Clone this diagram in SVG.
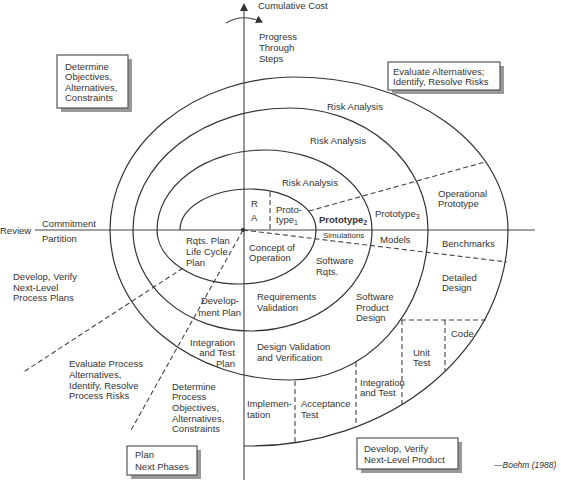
<svg xmlns="http://www.w3.org/2000/svg" width="561" height="480" viewBox="0 0 561 480">
<defs>
<style>
text{font-family:"Liberation Sans",Arial,sans-serif;font-size:9.5px;fill:#333}
.sm{font-size:8px}
.sub{font-size:7px}
.ax{stroke:#444;stroke-width:1.1;fill:none}
.sp{stroke:#333;stroke-width:1.2;fill:none}
.da{stroke:#444;stroke-width:1.1;fill:none;stroke-dasharray:5 3}
.box{fill:#fff;stroke:#555;stroke-width:1.2}
.sh{fill:#999}
</style>
<marker id="ah" markerWidth="8" markerHeight="8" refX="6" refY="4" orient="auto" markerUnits="userSpaceOnUse">
<path d="M0,0 L7,4 L0,8 Z" fill="#333"/>
</marker>
</defs>
<rect width="561" height="480" fill="#fff"/>
<g id="axes">
<line class="ax" x1="244" y1="8" x2="244" y2="480"/>
<path d="M240,11 L244,3 L248,11 Z" fill="#333"/>
<line class="ax" x1="35" y1="230" x2="535" y2="230"/>
<circle cx="243" cy="230" r="2" fill="#222"/>
<path class="ax" d="M226,23 Q243,13 262,22" marker-end="url(#ah)"/>
</g>
<g id="spiral">
<path class="sp" d="M180,230 A70,41 0 0 1 250,189 A66,41 0 0 1 316,230 A76,54 0 0 1 240,284 A83,54 0 0 1 157,230 A108,80 0 0 1 265,150 A107,80 0 0 1 372,230 A122,101 0 0 1 250,331 A117,101 0 0 1 133,230 A157,122 0 0 1 290,108 A138,122 0 0 1 428,230 A138,150 0 0 1 290,380 A180,150 0 0 1 110,230 A185,153 0 0 1 295,77 A213,153 0 0 1 508,230 A258,216 0 0 1 250,446 L244,446"/>
</g>
<g id="connectors">
<line class="da" x1="309" y1="211" x2="485" y2="162"/>
<line class="da" x1="243" y1="230" x2="507" y2="262"/>
<line class="da" x1="243" y1="230" x2="130" y2="432"/>
<line class="da" x1="183" y1="268" x2="22" y2="373"/>
<line class="da" x1="270" y1="192" x2="270" y2="230" stroke-dasharray="4 3"/>
<line class="da" x1="401" y1="320" x2="486" y2="320"/>
<line class="da" x1="445" y1="320" x2="445" y2="372"/>
<line class="da" x1="402" y1="320" x2="402" y2="404"/>
<line class="da" x1="356" y1="362" x2="356" y2="427"/>
<line class="da" x1="295" y1="381" x2="295" y2="443" stroke-width="2" stroke-dasharray="4 2"/>
</g>
<g id="box-objectives">
<rect class="sh" x="61" y="59" width="71" height="53"/>
<rect class="box" x="57" y="55" width="71" height="53"/>
<text x="65" y="70">Determine</text>
<text x="65" y="80">Objectives,</text>
<text x="65" y="91">Alternatives,</text>
<text x="65" y="101">Constraints</text>
</g>
<g id="box-evaluate">
<rect class="sh" x="392" y="66" width="112" height="28"/>
<rect class="box" x="388" y="62" width="112" height="28"/>
<text x="393" y="75">Evaluate Alternatives;</text>
<text x="393" y="85">Identify, Resolve Risks</text>
</g>
<g id="box-plan">
<rect class="sh" x="131" y="450" width="70" height="29"/>
<rect class="box" x="127" y="446" width="70" height="29"/>
<text x="135" y="458">Plan</text>
<text x="135" y="470">Next Phases</text>
</g>
<g id="box-develop">
<rect class="sh" x="361" y="442" width="101" height="31"/>
<rect class="box" x="357" y="438" width="101" height="31"/>
<text x="364" y="452">Develop, Verify</text>
<text x="364" y="463">Next-Level Product</text>
</g>
<g id="labels">
<text x="258" y="9">Cumulative Cost</text>
<text x="259" y="40">Progress</text>
<text x="259" y="51">Through</text>
<text x="259" y="62">Steps</text>
<text x="327" y="110">Risk Analysis</text>
<text x="310" y="144">Risk Analysis</text>
<text x="282" y="186">Risk Analysis</text>
<text x="251" y="207">R</text>
<text x="251" y="221">A</text>
<text x="276" y="213">Proto-</text>
<text x="276" y="223">type<tspan class="sub" dy="2">1</tspan></text>
<text x="319" y="223" style="font-weight:bold">Prototype<tspan class="sub" dy="2">2</tspan></text>
<text x="375" y="217">Prototype<tspan class="sub" dy="2">3</tspan></text>
<text x="438" y="197">Operational</text>
<text x="438" y="207">Prototype</text>
<text x="0" y="234">Review</text>
<text x="42" y="227">Commitment</text>
<text x="42" y="242">Partition</text>
<text class="sm" x="323" y="238">Simulations</text>
<text x="380" y="243">Models</text>
<text x="442" y="247">Benchmarks</text>
<text x="186" y="244">Rqts. Plan</text>
<text x="186" y="255">Life Cycle</text>
<text x="186" y="266">Plan</text>
<text x="249" y="251">Concept of</text>
<text x="249" y="261">Operation</text>
<text x="316" y="264">Software</text>
<text x="316" y="275">Rqts.</text>
<text x="442" y="281">Detailed</text>
<text x="442" y="291">Design</text>
<text x="13" y="280">Develop, Verify</text>
<text x="13" y="291">Next-Level</text>
<text x="13" y="301">Process Plans</text>
<text x="239" y="304" text-anchor="end">Develop-</text>
<text x="241" y="316" text-anchor="end">ment Plan</text>
<text x="257" y="300">Requirements</text>
<text x="257" y="311">Validation</text>
<text x="356" y="300">Software</text>
<text x="356" y="311">Product</text>
<text x="356" y="321">Design</text>
<text x="235" y="346" text-anchor="end">Integration</text>
<text x="235" y="356" text-anchor="end">and Test</text>
<text x="235" y="367" text-anchor="end">Plan</text>
<text x="257" y="350">Design Validation</text>
<text x="257" y="361">and Verification</text>
<text x="69" y="367">Evaluate Process</text>
<text x="69" y="378">Alternatives,</text>
<text x="69" y="389">Identify, Resolve</text>
<text x="69" y="399">Process Risks</text>
<text x="172" y="390">Determine</text>
<text x="172" y="400">Process</text>
<text x="172" y="411">Objectives,</text>
<text x="172" y="422">Alternatives,</text>
<text x="172" y="432">Constraints</text>
<text x="247" y="407">Implemen-</text>
<text x="247" y="418">tation</text>
<text x="301" y="407">Acceptance</text>
<text x="301" y="418">Test</text>
<text x="360" y="386">Integration</text>
<text x="360" y="396">and Test</text>
<text x="413" y="356">Unit</text>
<text x="413" y="366">Test</text>
<text x="451" y="337">Code</text>
<text x="494" y="468" style="font-style:italic;font-size:8.5px">—Boehm (1988)</text>
</g>
</svg>
